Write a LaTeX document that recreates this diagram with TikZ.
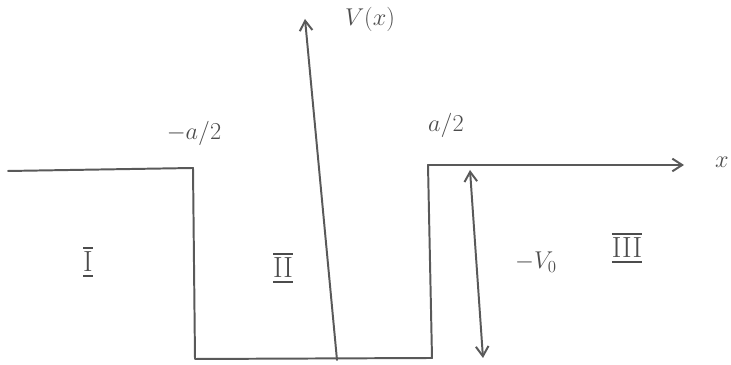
\documentclass[tikz,border=0pt]{standalone}
\usepackage{amsmath}
\usepackage{tikz}
\usetikzlibrary{arrows.meta,positioning,calc}

\begin{document}
\begin{tikzpicture}[
		x=0.025cm, y=0.025cm,
		>={Straight Barb[length=7pt,width=9pt]},
		pen/.style={draw=black!65, line width=1.4pt, line cap=round, line join=round},
		lbl/.style={text=black!70, font=\LARGE, inner sep=1pt},
		region/.style={text=black!70, font=\huge, inner sep=1pt}
		]
		
		\useasboundingbox (0,0) rectangle (731,365);
		
		% -------------------------
		% Corners of the well
		% -------------------------
		\coordinate (xl) at (8,194);
		\coordinate (wlt) at (193,197);
		\coordinate (wlb) at (195,6);
		\coordinate (wrb) at (432,7);
		\coordinate (wrt) at (428,200);
		\coordinate (xr) at (684,200);
		
		\coordinate (vbot) at (337,5);
		\coordinate (vtop) at (305,346);
		
		\coordinate (dtop) at (470,195);
		\coordinate (dbot) at (483,7);
		
		% -------------------------
		% Potential and axes
		% -------------------------
		\draw[pen, ->] (xl) -- (wlt) -- (wlb) -- (wrb) -- (wrt) -- (xr);
		\draw[pen, ->] (vbot) -- (vtop);
		\draw[pen, <->] (dtop) -- (dbot);
		
		% -------------------------
		% Labels
		% -------------------------
		\node[lbl] (vx) at (370,346) {$V(x)$};
		\node[lbl] (xx) at (722,203) {$x$};
		\node[lbl] (ml) at (194,232) {$-a/2$};
		\node[lbl] (mr) at (446,240) {$a/2$};
		\node[lbl] (v0) at (536,103) {$-V_0$};
		
		\node[region] (r1) at (88,103) {$\overline{\underline{\mathrm{I}}}$};
		\node[region] (r2) at (283,97) {$\overline{\underline{\mathrm{II}}}$};
		\node[region] (r3) at (627,117) {$\overline{\underline{\mathrm{III}}}$};
		
	\end{tikzpicture}
\end{document}
